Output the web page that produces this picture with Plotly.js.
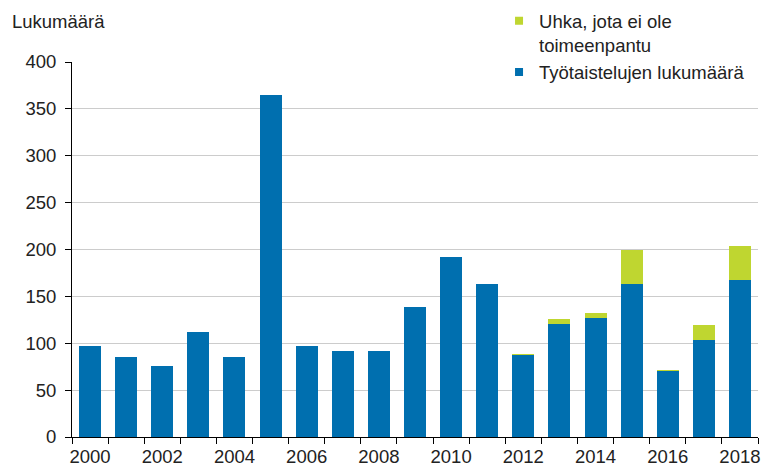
<!DOCTYPE html>
<html>
<head>
<meta charset="utf-8">
<script src="https://cdn.plot.ly/plotly-3.0.1.min.js"></script>
<style>html,body{margin:0;padding:0;background:#fff;}#chart{width:761px;height:468px;}</style>
</head>
<body>
<div id="chart"></div>
<script>
const years = ["2000","2001","2002","2003","2004","2005","2006","2007","2008","2009","2010","2011","2012","2013","2014","2015","2016","2017","2018"];
const strikes = [97, 85, 76, 112, 85, 365, 97, 92, 92, 139, 192, 163, 87, 121, 127, 163, 70, 104, 167];
const threats = [0, 0, 0, 0, 0, 0, 0, 0, 0, 0, 0, 0, 2, 5, 5, 36, 1, 15, 37];
const tickLabels = ["2000","","2002","","2004","","2006","","2008","","2010","","2012","","2014","","2016","","2018"];
const seriesNames = ["Työtaistelujen lukumäärä", "Uhka, jota ei ole<br>toimeenpantu"];
const yTitle = "Lukumäärä";

const blue = "#006FAF", green = "#BFD630";
const fam = "Liberation Sans, Arial, sans-serif";
const fs = 18.5;
const font = {family: fam, size: fs, color: "#222"};

const data = [
  {type: "bar", x: years, y: strikes, name: seriesNames[0], marker: {color: blue, line: {width: 0}}, showlegend: false},
  {type: "bar", x: years, y: threats, name: seriesNames[1], marker: {color: green, line: {width: 0}}, showlegend: false},
  // legend entries (small square symbols)
  {type: "scatter", mode: "markers", x: [null], y: [null], name: seriesNames[0], marker: {symbol: "square", size: 8, color: blue}, legendgroup: "a"},
  {type: "scatter", mode: "markers", x: [null], y: [null], name: seriesNames[1], marker: {symbol: "square", size: 8, color: green}, legendgroup: "b"}
];

const layout = {
  width: 761, height: 468,
  margin: {l: 72, r: 3, t: 61, b: 31},
  barmode: "stack",
  bargap: 0.39,
  paper_bgcolor: "#fff",
  plot_bgcolor: "#fff",
  font: font,
  showlegend: true,
  legend: {x: 0.6225, xanchor: "left", y: 1.156, yanchor: "top", traceorder: "reversed", valign: "top", bgcolor: "rgba(0,0,0,0)", font: font, tracegroupgap: 26, itemwidth: 30},
  xaxis: {
    type: "category",
    tickmode: "array", tickvals: years, ticktext: tickLabels,
    tickson: "boundaries",
    ticks: "outside", ticklen: 6, tickcolor: "#000", tickwidth: 1,
    showline: true, linecolor: "#000", linewidth: 1,
    showgrid: false, zeroline: false,
    tickangle: 0,
    ticklabelstandoff: 3,
    tickfont: font
  },
  yaxis: {
    range: [0, 400], dtick: 50, tick0: 0,
    ticks: "outside", ticklen: 6, tickcolor: "#000",
    showline: true, linecolor: "#000", linewidth: 1,
    showgrid: true, gridcolor: "#cccccc", gridwidth: 1,
    zeroline: false,
    ticklabelstandoff: 5,
    tickfont: font
  },
  annotations: [
    {text: yTitle, xref: "paper", yref: "paper", x: -0.0904, xanchor: "left", y: 1.109, yanchor: "middle", showarrow: false, font: font}
  ]
};

Plotly.newPlot("chart", data, layout, {displayModeBar: false, staticPlot: true});
</script>
</body>
</html>
